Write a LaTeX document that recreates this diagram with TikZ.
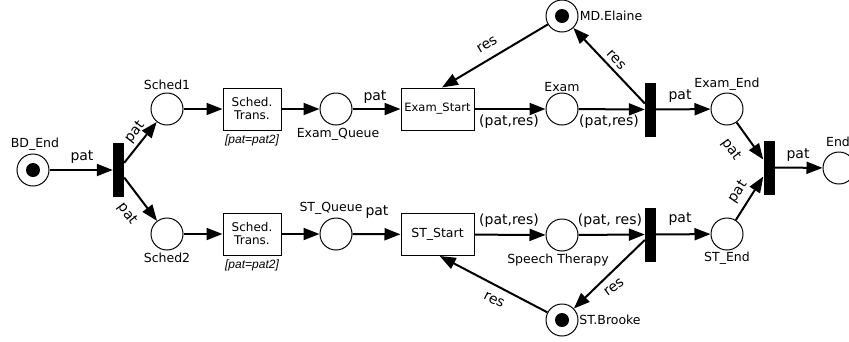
\documentclass[tikz,border=0pt]{standalone}
\usepackage{fontspec}
\setmainfont{DejaVu Sans}
\newfontfamily\guardfont{Liberation Sans}
\usetikzlibrary{arrows.meta,calc}
\begin{document}
\begin{tikzpicture}[x=1pt,y=-1pt,
  place/.style={circle,draw,line width=1pt,minimum size=32pt,inner sep=0pt},
  tbar/.style={fill=black,minimum width=11pt,minimum height=54pt,inner sep=0pt},
  tbox/.style={draw,line width=1pt,minimum height=42pt,inner sep=1pt,align=center},
  arc/.style={line width=2pt,-{Triangle[length=16pt,width=12pt]}},
  lab/.style={font=\fontsize{14}{16}\selectfont,inner sep=0pt},
  plab/.style={font=\fontsize{12.5}{14}\selectfont,inner sep=0pt},
  guard/.style={font=\guardfont\itshape\fontsize{12}{14}\selectfont,inner sep=0pt}]
\useasboundingbox (0,0) rectangle (849,341);

% places
\node[place] (bd) at (33,170) {};
\node[place] (s1) at (167,109) {};
\node[place] (s2) at (167,234) {};
\node[place] (eq) at (336,109) {};
\node[place] (sq) at (336,234) {};
\node[place] (ex) at (562,109) {};
\node[place] (sp) at (562,235) {};
\node[place] (md) at (562,16) {};
\node[place] (sb) at (562,320) {};
\node[place] (ee) at (727,109) {};
\node[place] (se) at (727,234) {};
\node[place] (en) at (839,168) {};
\fill (bd.center) circle (7pt);
\fill (md.center) circle (7pt);
\fill (sb.center) circle (7pt);

% place names
\node[plab] (lbd) at (35,144) {BD\_End};
\node[plab] (ls1) at (167,85) {Sched1};
\node[plab] (ls2) at (167,258) {Sched2};
\node[plab] (leq) at (338,134) {Exam\_Queue};
\node[plab] (lsq) at (331,208) {ST\_Queue};
\node[plab] (lex) at (562,87) {Exam};
\node[plab] (lsp) at (558,260) {Speech Therapy};
\node[plab] (lmd) at (611,16) {MD.Elaine};
\node[plab] (lsb) at (610,320) {ST.Brooke};
\node[plab] (lee) at (727,84) {Exam\_End};
\node[plab] (lse) at (727,258) {ST\_End};
\node[plab] (len) at (838,142) {End};

% transitions
\node[tbar] (t1) at (118.5,170) {};
\node[tbar] (te) at (650.5,109.5) {};
\node[tbar] (ts) at (650.5,234.5) {};
\node[tbar] (tf) at (769,167.5) {};
\node[tbox,minimum width=58pt,font=\fontsize{12}{13}\selectfont] (st1) at (252,109) {Sched.\\Trans.};
\node[tbox,minimum width=58pt,font=\fontsize{12}{13}\selectfont] (st2) at (252,234) {Sched.\\Trans.};
\node[tbox,minimum width=73pt,font=\fontsize{11.5}{13}\selectfont] (es) at (437.5,109) {Exam\_Start};
\node[tbox,minimum width=73pt,font=\fontsize{12.5}{14}\selectfont] (ss) at (437.5,234.5) {ST\_Start};
\node[guard] (g1) at (252,140) {[pat=pat2]};
\node[guard] (g2) at (252,265) {[pat=pat2]};

\coordinate (esin) at ($(es.north west)!0.56!(es.north east)$);
\coordinate (ssin) at ($(ss.south west)!0.53!(ss.south east)$);

% arcs
\draw[arc] (bd) -- (t1);
\draw[arc] (t1) -- (s1);
\draw[arc] (t1) -- (s2);
\draw[arc] (s1) -- (st1);
\draw[arc] (s2) -- (st2);
\draw[arc] (st1) -- (eq);
\draw[arc] (st2) -- (sq);
\draw[arc] (eq) -- (es);
\draw[arc] (sq) -- (ss);
\draw[arc] (es) -- (ex);
\draw[arc] (ss) -- (sp);
\draw[arc] (ex) -- (te);
\draw[arc] (sp) -- (ts);
\draw[arc] (te) -- (md);
\draw[arc] (md) -- (esin);
\draw[arc] (ts) -- (sb);
\draw[arc] (sb) -- (ssin);
\draw[arc] (te) -- (ee);
\draw[arc] (ts) -- (se);
\draw[arc] (ee) -- (tf);
\draw[arc] (se) -- (tf);
\draw[arc] (tf) -- (en);

% arc inscriptions
\node[lab] (a1) at (82,157) {pat};
\node[lab,rotate=52] (a2) at (135,132) {pat};
\node[lab,rotate=-53] (a3) at (127,214) {pat};
\node[lab] (a4) at (375,97) {pat};
\node[lab] (a5) at (377,212) {pat};
\node[lab] (a6) at (509,122) {(pat,res)};
\node[lab] (a7) at (609,122) {(pat,res)};
\node[lab] (a8) at (509,221) {(pat,res)};
\node[lab] (a9) at (610,221) {(pat, res)};
\node[lab,rotate=31] (a10) at (487,45) {res};
\node[lab,rotate=-47] (a11) at (616,60) {res};
\node[lab,rotate=36] (a12) at (614,287) {res};
\node[lab,rotate=-27] (a13) at (494,300) {res};
\node[lab] (a14) at (680,96) {pat};
\node[lab] (a15) at (680,219) {pat};
\node[lab,rotate=-54] (a16) at (731,150) {pat};
\node[lab,rotate=56] (a17) at (738,192) {pat};
\node[lab] (a18) at (798,155) {pat};
\end{tikzpicture}
\end{document}
